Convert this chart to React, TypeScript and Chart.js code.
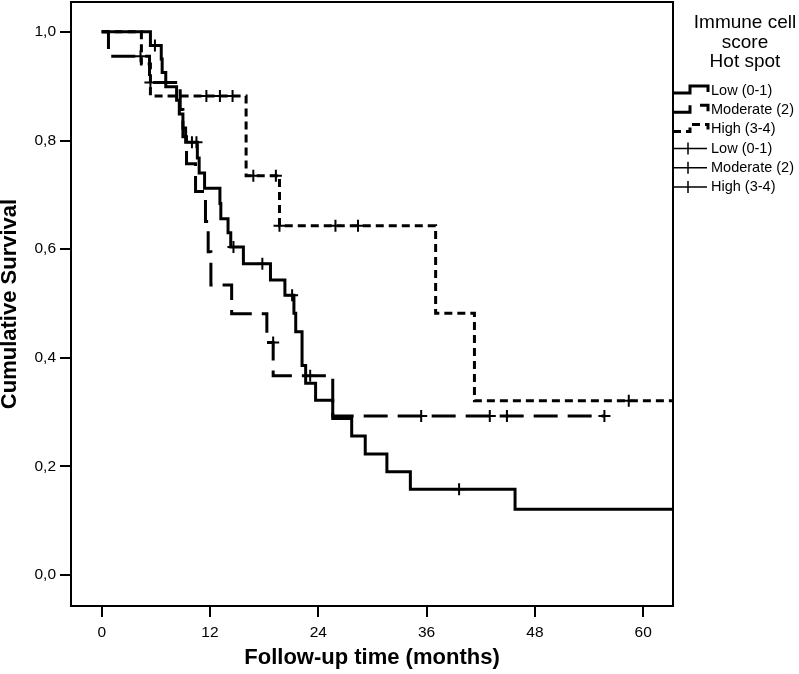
import React, { useEffect, useRef } from 'react';
import { Chart, registerables } from 'chart.js';

Chart.register(...registerables);

const FONT = '"Liberation Sans", Arial, Helvetica, sans-serif';

// Axis ticks
const xTickValues = [0, 12, 24, 36, 48, 60];
const yTickValues = [0, 0.2, 0.4, 0.6, 0.8, 1.0];

// Legend texts
const legendTitle = ['Immune cell', 'score', 'Hot spot'];
const groupLabels = ['Low (0-1)', 'Moderate (2)', 'High (3-4)'];

// Low (0-1): step curve (time in months, cumulative survival)
const lowTimes = [0, 5.4, 6.6, 6.7, 7.1, 8.3, 8.6, 9.0, 9.3, 10.6, 10.8, 11.4, 13.1, 13.2, 14.0, 14.3, 15.7, 18.7, 20.3, 21.3, 21.5, 22.2, 22.6, 23.7, 25.6, 27.7, 29.2, 31.6, 34.2, 45.8, 63.3];
const lowSurvival = [1, 0.975, 0.95, 0.925, 0.899, 0.874, 0.849, 0.823, 0.797, 0.768, 0.74, 0.712, 0.684, 0.656, 0.63, 0.604, 0.573, 0.543, 0.515, 0.482, 0.448, 0.386, 0.353, 0.322, 0.288, 0.256, 0.223, 0.19, 0.158, 0.121, 0.121];
const lowCensorTimes = [5.9, 10.0, 10.5, 14.6, 17.8, 21.1, 39.6];
const lowCensorSurvival = [0.975, 0.797, 0.797, 0.604, 0.573, 0.515, 0.158];

// Moderate (2)
const modTimes = [0, 0.75, 5.3, 8.7, 9.0, 9.4, 10.4, 11.5, 11.8, 12.1, 14.4, 18.3, 19.0, 25.6, 55.7];
const modSurvival = [1, 0.955, 0.907, 0.857, 0.807, 0.757, 0.706, 0.651, 0.595, 0.534, 0.481, 0.428, 0.367, 0.293, 0.293];
const modCensorTimes = [4.3, 5.4, 19.0, 23.1, 35.4, 43.0, 44.9, 55.7];
const modCensorSurvival = [0.955, 0.907, 0.428, 0.367, 0.293, 0.293, 0.293, 0.293];

// High (3-4)
const highTimes = [0, 4.4, 5.4, 16.0, 19.7, 37.0, 41.3, 63.3];
const highSurvival = [1, 0.941, 0.882, 0.735, 0.643, 0.482, 0.321, 0.321];
const highCensorTimes = [11.6, 13.1, 14.5, 16.8, 19.3, 19.7, 25.9, 28.4, 58.4];
const highCensorSurvival = [0.882, 0.882, 0.882, 0.735, 0.735, 0.643, 0.643, 0.643, 0.321];

const toPoints = (xs: number[], ys: number[]) => xs.map((x, i) => ({ x, y: ys[i] }));

const groupDashes: number[][] = [[], [24, 10], [8, 5]];

const framePlugin = {
  id: 'kmFrame',
  afterDatasetsDraw(chart: any) {
    const { ctx, chartArea } = chart;
    ctx.save();
    ctx.strokeStyle = '#000';
    ctx.lineWidth = 2;
    ctx.strokeRect(chartArea.left, chartArea.top, chartArea.right - chartArea.left, chartArea.bottom - chartArea.top);
    ctx.restore();
  },
};

const legendPlugin = {
  id: 'kmLegend',
  afterDraw(chart: any) {
    const { ctx, chartArea } = chart;
    const x0 = chartArea.right;
    ctx.save();
    ctx.fillStyle = '#000';
    ctx.strokeStyle = '#000';
    ctx.textAlign = 'center';
    ctx.textBaseline = 'middle';
    ctx.font = `19px ${FONT}`;
    legendTitle.forEach((t, i) => ctx.fillText(t, x0 + 72, 23 + i * 19.3));
    const rowY = (i: number) => 91 + i * 19.2;
    for (let i = 0; i < 3; i++) {
      const yc = rowY(i);
      ctx.save();
      ctx.lineWidth = 3;
      ctx.lineCap = 'butt';
      ctx.setLineDash(groupDashes[i]);
      ctx.beginPath();
      ctx.moveTo(x0, yc + 2);
      ctx.lineTo(x0 + 17, yc + 2);
      ctx.lineTo(x0 + 17, yc - 5);
      ctx.lineTo(x0 + 35, yc - 5);
      ctx.lineTo(x0 + 35, yc + 1);
      ctx.stroke();
      ctx.restore();
    }
    for (let i = 0; i < 3; i++) {
      const yc = rowY(i + 3);
      ctx.lineWidth = 1.5;
      ctx.beginPath();
      ctx.moveTo(x0, yc);
      ctx.lineTo(x0 + 34, yc);
      ctx.moveTo(x0 + 15, yc - 6);
      ctx.lineTo(x0 + 15, yc + 6);
      ctx.stroke();
    }
    ctx.textAlign = 'left';
    ctx.font = `14.5px ${FONT}`;
    [...groupLabels, ...groupLabels].forEach((t, i) => ctx.fillText(t, x0 + 38, rowY(i)));
    ctx.restore();
  },
};

export default function App() {
  const canvasRef = useRef<HTMLCanvasElement | null>(null);

  useEffect(() => {
    const canvas = canvasRef.current;
    if (!canvas) return;

    const stepLine = (label: string, xs: number[], ys: number[], dash: number[]) => ({
      label,
      data: toPoints(xs, ys),
      stepped: 'before',
      borderColor: '#000',
      backgroundColor: '#000',
      borderWidth: 3,
      borderDash: dash,
      borderCapStyle: 'butt',
      borderJoinStyle: 'miter',
      pointRadius: 0,
      fill: false,
    });
    const censors = (label: string, xs: number[], ys: number[]) => ({
      label,
      data: toPoints(xs, ys),
      showLine: false,
      pointStyle: 'cross',
      pointRadius: 6,
      pointBorderWidth: 2,
      pointBorderColor: '#000',
      borderColor: '#000',
      backgroundColor: '#000',
    });

    const chart = new Chart(canvas, {
      type: 'line',
      data: {
        datasets: [
          stepLine(groupLabels[0], lowTimes, lowSurvival, groupDashes[0]),
          stepLine(groupLabels[1], modTimes, modSurvival, groupDashes[1]),
          stepLine(groupLabels[2], highTimes, highSurvival, groupDashes[2]),
          censors(groupLabels[0] + ' censored', lowCensorTimes, lowCensorSurvival),
          censors(groupLabels[1] + ' censored', modCensorTimes, modCensorSurvival),
          censors(groupLabels[2] + ' censored', highCensorTimes, highCensorSurvival),
        ] as any,
      },
      options: {
        animation: false,
        responsive: false,
        events: [],
        layout: { autoPadding: false, padding: { left: 0, top: 2, right: 126, bottom: 0 } },
        plugins: {
          legend: { display: false },
          tooltip: { enabled: false },
        },
        scales: {
          x: {
            type: 'linear',
            min: -3.4,
            max: 63.3,
            afterBuildTicks: (s: any) => {
              s.ticks = xTickValues.map((v) => ({ value: v }));
            },
            afterFit: (s: any) => {
              s.height = 68;
              s.paddingLeft = 0;
              s.paddingRight = 0;
            },
            grid: { display: true, drawOnChartArea: false, drawTicks: true, tickLength: 11, color: '#000', lineWidth: 2 },
            border: { display: false },
            ticks: {
              color: '#000',
              font: { family: FONT, size: 15.5 },
              padding: 6,
              maxRotation: 0,
              autoSkip: false,
              callback: (v: any) => String(v),
            },
            title: {
              display: true,
              text: 'Follow-up time (months)',
              color: '#000',
              font: { family: FONT, size: 22, weight: 'bold', lineHeight: 1.2 },
              padding: { top: 0, bottom: 3 },
            },
          },
          y: {
            type: 'linear',
            min: -0.057,
            max: 1.055,
            afterBuildTicks: (s: any) => {
              s.ticks = yTickValues.map((v) => ({ value: v }));
            },
            afterFit: (s: any) => {
              s.width = 71;
              s.paddingTop = 0;
              s.paddingBottom = 0;
            },
            grid: { display: true, drawOnChartArea: false, drawTicks: true, tickLength: 11, color: '#000', lineWidth: 2 },
            border: { display: false },
            ticks: {
              color: '#000',
              font: { family: FONT, size: 15.5 },
              padding: 4,
              autoSkip: false,
              callback: (v: any) => Number(v).toFixed(1).replace('.', ','),
            },
            title: {
              display: true,
              text: 'Cumulative Survival',
              color: '#000',
              font: { family: FONT, size: 22, weight: 'bold', lineHeight: 0.9 },
              padding: { top: 0, bottom: 0 },
            },
          },
        },
      } as any,
      plugins: [framePlugin, legendPlugin],
    });

    return () => chart.destroy();
  }, []);

  return (
    <div style={{ position: 'absolute', left: 0, top: 0, width: 799, height: 674, background: '#fff' }}>
      <canvas ref={canvasRef} width={799} height={674} style={{ width: 799, height: 674, display: 'block' }} />
    </div>
  );
}
